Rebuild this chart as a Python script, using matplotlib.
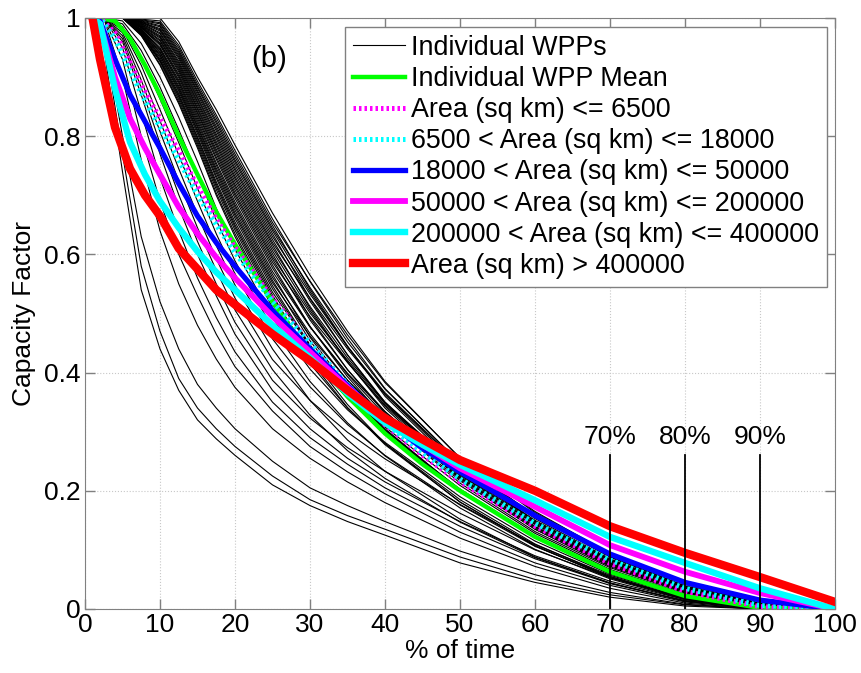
import matplotlib.pyplot as plt

plt.rcParams['font.family'] = ['Liberation Sans', 'DejaVu Sans']

# % of time grid for the aggregated (coloured) curves
agg_x = [1, 2, 4, 6, 8, 10, 12.5, 15, 17.5, 20, 25, 30, 35, 40, 45, 50, 60, 70, 80, 90, 100]

wpp_mean = [1.0, 1.0, .995, .965, .92, .87, .8, .735, .672, .617, .52, .43, .36, .297, .245, .2, .122, .063, .022, .002, 0]
area_6500 = [1.0, 1.0, .975, .925, .875, .83, .775, .715, .66, .612, .525, .45, .38, .312, .26, .215, .14, .077, .03, .004, 0]
area_18000 = [1.0, 1.0, .965, .91, .86, .815, .76, .7, .65, .603, .52, .45, .38, .315, .265, .22, .145, .083, .035, .006, 0]
area_50000 = [1.0, .995, .93, .87, .825, .78, .72, .665, .62, .58, .505, .44, .378, .32, .272, .232, .158, .093, .045, .015, 0]
area_200000 = [1.0, .99, .9, .83, .78, .735, .68, .635, .595, .56, .495, .435, .375, .322, .278, .238, .173, .108, .063, .027, 0]
area_400000 = [1.0, .99, .88, .79, .735, .69, .645, .605, .57, .54, .48, .425, .365, .315, .278, .244, .184, .122, .078, .035, 0]
area_big = [1.0, .93, .815, .745, .70, .665, .61, .575, .54, .515, .465, .42, .37, .323, .287, .252, .2, .14, .095, .054, .012]

wpp_x = [1, 2.5, 5, 7.5, 10, 12.5, 15, 17.5, 20, 25, 30, 35, 40, 50, 60, 70, 80, 90, 100]
wpp_cf = [
    # steep, low ones
    [1, .95, .74, .54, .44, .37, .32, .288, .26, .21, .175, .148, .125, .078, .045, .02, .005, 0, 0],
    [1, .97, .77, .58, .47, .39, .34, .305, .275, .225, .185, .158, .135, .088, .05, .024, .007, 0, 0],
    [1, .98, .80, .63, .52, .44, .38, .34, .305, .25, .205, .175, .148, .098, .058, .028, .008, 0, 0],
    [1, 1, .9, .76, .64, .55, .48, .423, .375, .305, .255, .215, .18, .12, .072, .035, .01, 0, 0],
    [1, 1, .93, .8, .69, .6, .53, .465, .41, .335, .275, .232, .195, .13, .078, .04, .012, 0, 0],
    [1, 1, .95, .84, .73, .64, .56, .493, .435, .35, .29, .245, .205, .14, .085, .043, .014, 0, 0],
    [1, 1, .96, .87, .77, .68, .6, .53, .465, .37, .305, .255, .215, .148, .09, .047, .016, .002, 0],
    # in between
    [1, 1, .965, .882, .788, .701, .622, .55, .485, .387, .323, .273, .233, .162, .1, .053, .019, .002, 0],
    [1, 1, .97, .895, .808, .724, .645, .573, .506, .405, .328, .268, .221, .147, .087, .044, .014, .002, 0],
    [1, 1, .975, .907, .826, .745, .667, .593, .526, .422, .353, .299, .254, .177, .109, .057, .021, .001, 0],
    [1, 1, .98, .92, .845, .768, .69, .615, .548, .44, .353, .286, .233, .152, .088, .044, .013, .001, 0],
    [1, 1, .985, .932, .863, .789, .712, .635, .567, .457, .376, .312, .26, .176, .106, .055, .019, .001, 0],
    [1, 1, .99, .945, .883, .811, .735, .658, .589, .475, .385, .315, .259, .171, .101, .051, .016, 0, 0],
    [1, 1, .995, .957, .9, .832, .757, .678, .609, .492, .406, .337, .282, .19, .115, .059, .021, 0, 0],
    # main bundle
    [1, 1, 1, .97, .92, .855, .78, .70, .63, .51, .415, .34, .28, .185, .11, .055, .018, 0, 0],
    [1, 1, 1, .971, .922, .858, .784, .704, .635, .515, .428, .356, .298, .203, .124, .064, .024, 0, 0],
    [1, 1, 1, .972, .926, .862, .788, .71, .641, .521, .421, .341, .278, .181, .107, .053, .017, .001, 0],
    [1, 1, 1, .973, .928, .866, .792, .715, .646, .526, .433, .358, .297, .199, .121, .062, .022, .001, 0],
    [1, 1, 1, .974, .93, .869, .796, .719, .65, .531, .427, .346, .28, .181, .107, .053, .017, .001, 0],
    [1, 1, 1, .975, .933, .872, .799, .723, .655, .536, .444, .37, .308, .209, .128, .067, .025, .002, 0],
    [1, 1, 1, .976, .936, .876, .804, .729, .661, .542, .445, .367, .303, .202, .123, .064, .023, .002, 0],
    [1, 1, 1, .977, .938, .879, .808, .733, .666, .547, .447, .367, .302, .2, .121, .063, .023, .002, 0],
    [1, 1, 1, .978, .941, .882, .811, .738, .67, .552, .462, .387, .325, .222, .139, .074, .03, .003, 0],
    [1, 1, 1, .979, .943, .885, .815, .742, .675, .556, .454, .371, .303, .2, .121, .063, .023, .003, 0],
    [1, 1, 1, .98, .946, .889, .818, .746, .68, .561, .466, .387, .322, .217, .135, .072, .028, .003, 0],
    [1, 1, 1, .981, .948, .892, .822, .751, .684, .566, .46, .375, .305, .2, .121, .063, .023, .004, 0],
    [1, 1, 1, .981, .95, .895, .826, .755, .689, .571, .477, .399, .334, .227, .143, .077, .031, .004, 0],
    [1, 1, 1, .983, .954, .899, .83, .761, .695, .577, .478, .397, .328, .221, .137, .074, .029, .004, 0],
    [1, 1, 1, .984, .956, .902, .834, .765, .7, .582, .478, .393, .322, .213, .131, .07, .027, .005, 0],
    [1, 1, 1, .984, .958, .905, .838, .77, .704, .587, .495, .417, .345, .235, .148, .082, .035, .005, 0],
    [1, 1, 1, .985, .961, .909, .841, .774, .709, .592, .489, .405, .334, .223, .139, .076, .03, .005, 0],
    [1, 1, 1, .986, .963, .912, .845, .778, .714, .596, .501, .421, .348, .235, .148, .082, .035, .005, 0],
    [1, 1, 1, .987, .966, .915, .848, .783, .718, .601, .493, .405, .331, .219, .135, .073, .029, .006, 0],
    [1, 1, 1, .988, .968, .918, .852, .787, .723, .606, .505, .418, .343, .23, .144, .08, .033, .006, 0],
    [1, 1, 1, .989, .97, .921, .856, .791, .728, .611, .512, .425, .35, .236, .149, .083, .035, .006, 0],
    [1, 1, 1, .99, .973, .924, .859, .796, .732, .616, .509, .418, .34, .225, .14, .078, .032, .007, 0],
    [1, 1, 1, .991, .975, .927, .863, .8, .737, .62, .526, .44, .364, .244, .157, .088, .038, .006, 0],
    [1, 1, 1, .992, .978, .931, .866, .804, .742, .625, .521, .43, .35, .232, .146, .08, .034, .007, 0],
    [1, 1, 1, .993, .98, .934, .87, .809, .746, .63, .533, .444, .366, .245, .157, .088, .038, .008, 0],
    [1, 1, 1, .993, .982, .937, .874, .813, .751, .635, .525, .43, .348, .228, .143, .079, .033, .008, 0],
    [1, 1, 1, .994, .985, .94, .877, .817, .756, .64, .537, .444, .363, .24, .153, .085, .037, .008, 0],
    [1, 1, 1, .995, .987, .943, .881, .822, .76, .644, .544, .452, .372, .247, .158, .089, .039, .008, 0],
    [1, 1, 1, .996, .99, .946, .884, .826, .765, .649, .541, .445, .36, .236, .15, .084, .036, .009, 0],
    [1, 1, 1, .997, .992, .95, .888, .831, .77, .654, .555, .464, .383, .256, .165, .094, .042, .009, 0],
    [1, 1, 1, .998, .995, .954, .893, .836, .776, .66, .554, .458, .373, .247, .158, .089, .039, .009, 0],
    [1, 1, 1, 1, 1, .96, .9, .845, .785, .67, .565, .47, .385, .255, .163, .094, .042, .01, 0],
]

marker_pct = [70, 80, 90]
marker_top = 0.26

fig = plt.figure(figsize=(8.61, 6.73), dpi=100)
ax = fig.add_axes([0.0987, 0.0951, 0.8711, 0.8782])

for i, cf in enumerate(wpp_cf):
    ax.plot(wpp_x, cf, color='black', lw=0.8,
            label='Individual WPPs' if i == 0 else None)

ax.plot(agg_x, wpp_mean, color='#00ff00', lw=3.2, label='Individual WPP Mean')
ax.plot(agg_x, area_6500, color='#ff00ff', lw=3.6, ls=(0, (0.5, 0.6)), label='Area (sq km) <= 6500')
ax.plot(agg_x, area_18000, color='#00ffff', lw=3.6, ls=(0, (0.5, 0.6)), label='6500 < Area (sq km) <= 18000')
ax.plot(agg_x, area_50000, color='#0000ff', lw=3.8, label='18000 < Area (sq km) <= 50000')
ax.plot(agg_x, area_200000, color='#ff00ff', lw=4.2, label='50000 < Area (sq km) <= 200000')
ax.plot(agg_x, area_400000, color='#00ffff', lw=4.6, label='200000 < Area (sq km) <= 400000')
ax.plot(agg_x, area_big, color='#ff0000', lw=6, label='Area (sq km) > 400000')

# 70/80/90 % markers
for p in marker_pct:
    ax.plot([p, p], [0, marker_top], color='black', lw=1.3)
    ax.text(p, marker_top + 0.01, '%d%%' % p, ha='center', va='bottom', fontsize=19)

ax.text(24.5, 0.93, '(b)', ha='center', va='center', fontsize=21)

ax.set_xlim(0, 100)
ax.set_ylim(0, 1)
ax.set_xticks(range(0, 101, 10))
ax.set_yticks([0, 0.2, 0.4, 0.6, 0.8, 1])
ax.set_yticklabels(['0', '0.2', '0.4', '0.6', '0.8', '1'])
ax.tick_params(direction='in', length=7, width=1, color='#808080',
               top=True, right=True, labelsize=19, pad=3)
for s in ax.spines.values():
    s.set_color('#808080')
ax.grid(True, ls=':', color='#c8c8c8', lw=0.8)

ax.set_xlabel('% of time', fontsize=19, labelpad=1)
ax.set_ylabel('Capacity Factor', fontsize=19, labelpad=6)

leg = ax.legend(loc='upper right', bbox_to_anchor=(0.99, 0.985), borderaxespad=0,
                fontsize=19.4, handlelength=1.9, handletextpad=0.25, labelspacing=0.19,
                borderpad=0.3, fancybox=False, framealpha=1)
leg.get_frame().set_edgecolor('#808080')
leg.get_frame().set_linewidth(1.0)

fig.savefig('out.png', dpi=100)
